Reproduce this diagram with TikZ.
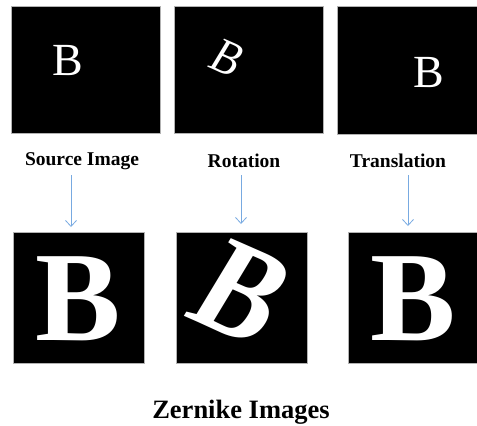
\documentclass[tikz,border=0pt]{standalone}
\usepackage{fontspec}
\setmainfont{Liberation Serif}
\usetikzlibrary{arrows.meta}
\definecolor{arrowblue}{RGB}{120,170,225}
\begin{document}
\begin{tikzpicture}[x=1pt,y=-1pt,
  imgbox/.style={fill=black,draw=gray!60,line width=0.7pt},
  smallB/.style={text=white,inner sep=0pt,font=\fontsize{46}{46}\selectfont},
  bigB/.style={text=white,inner sep=0pt,font=\fontsize{128}{128}\selectfont\bfseries},
  caption/.style={inner sep=0pt,font=\fontsize{19.5}{20}\selectfont\bfseries},
  flow/.style={draw=arrowblue,line width=0.8pt,-{Straight Barb[length=6pt,width=11pt]}}]
\useasboundingbox (0,0) rectangle (477,426);
% top row
\path[imgbox] (11,6) rectangle (160,133);
\path[imgbox] (174,6) rectangle (323,133);
\path[imgbox] (337,6) rectangle (478,134);
\node[smallB] (s1) at (67.5,61) {B};
\node[smallB,xslant=0.2,rotate=-22] (s2) at (228,58) {B};
\node[smallB] (s3) at (429,72.5) {B};
% captions
\node[caption] (l1) at (82,161) {Source Image};
\node[caption] (l2) at (244,161) {Rotation};
\node[caption] (l3) at (398,161) {Translation};
% bottom row
\path[imgbox] (13,232) rectangle (144,363);
\path[imgbox] (176,232) rectangle (307,363);
\path[imgbox] (348,232) rectangle (478,363);
\node[bigB] (z1) at (78,298.5) {B};
\node[bigB,xslant=0.2,rotate=-22] (z2) at (242,293) {B};
\node[bigB] (z3) at (413.5,298.5) {B};
% arrows
\coordinate (a1s) at (71,175); \coordinate (a1e) at (71,227);
\coordinate (a2s) at (241,175); \coordinate (a2e) at (241,224);
\coordinate (a3s) at (408,175); \coordinate (a3e) at (408,226);
\draw[flow] (a1s) -- (a1e);
\draw[flow] (a2s) -- (a2e);
\draw[flow] (a3s) -- (a3e);
% title
\node[inner sep=0pt,font=\fontsize{26.5}{27}\selectfont\bfseries] (title) at (241,412) {Zernike Images};
\end{tikzpicture}
\end{document}
